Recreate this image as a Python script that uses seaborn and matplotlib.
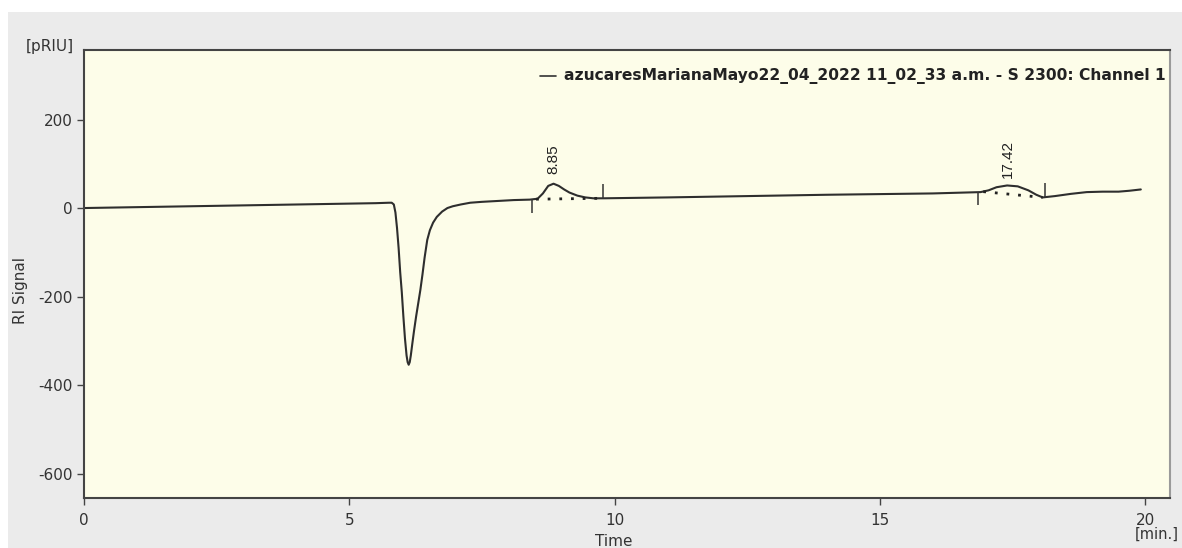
import matplotlib
matplotlib.use("Agg")
import matplotlib.pyplot as plt
import seaborn as sns
import pandas as pd
from matplotlib.patches import Rectangle

# Chromatogram trace (time in minutes, RI signal in pRIU)
time_min = [0, 1, 2, 3, 4, 5, 5.5, 5.75, 5.8, 5.84, 5.87, 5.9, 5.93, 5.96,
            5.99, 6.02, 6.05, 6.08, 6.1, 6.12, 6.14, 6.16, 6.19, 6.22, 6.26,
            6.3, 6.34, 6.38, 6.42, 6.47, 6.52, 6.58, 6.65, 6.75, 6.85, 6.95,
            7.1, 7.28, 7.5, 7.8, 8.1, 8.4, 8.55, 8.65, 8.75, 8.85, 8.95, 9.05,
            9.15, 9.3, 9.45, 9.6, 9.8, 11, 12, 13, 14, 15, 16, 16.6, 16.9,
            17.05, 17.2, 17.4, 17.6, 17.8, 17.95, 18.07, 18.3, 18.6, 18.9,
            19.2, 19.5, 19.7, 19.92]
signal = [0, 2, 4, 6, 8, 10, 11, 12, 12, 8, -10, -45, -90, -145,
          -190, -245, -295, -333, -348, -354, -348, -333, -305, -278, -245,
          -215, -185, -150, -112, -72, -50, -33, -20, -8, 0, 4,
          8, 12, 14, 16, 18, 19, 21, 33, 50, 55, 50, 42,
          35, 28, 24, 22, 22, 24, 26, 28, 30, 31.5, 33, 35, 36,
          40, 47, 51, 49, 40, 30, 24, 27, 32, 36,
          37, 37, 39, 42]

# Integrated peaks: retention time, baseline start/end and marker spans
peak_rt = [8.85, 17.42]
peak_label_y = [78, 68]
base_t0 = [8.52, 16.95]
base_y0 = [20, 37]
base_t1 = [9.75, 18.07]
base_y1 = [22, 24]
marker_t = [8.45, 9.79, 16.86, 18.11]
marker_lo = [-12, 20, 7, 25]
marker_hi = [20, 54, 36, 57]

legend_text = "azucaresMarianaMayo22_04_2022 11_02_33 a.m. - S 2300: Channel 1"

x_ticks = [0, 5, 10, 15, 20]
y_ticks = [-600, -400, -200, 0, 200]

sns.set_theme(style="ticks")
plt.rcParams["font.family"] = ["DejaVu Sans"]
plt.rcParams["axes.unicode_minus"] = False

fig = plt.figure(figsize=(11.82, 5.48), dpi=100, facecolor="white")
# grey panel behind the plot
fig.patches.append(Rectangle((8 / 1182, 0), 1 - 8 / 1182, 1 - 12 / 548,
                             transform=fig.transFigure, facecolor="#ebebeb",
                             edgecolor="none", zorder=-10))

ax = fig.add_axes([84 / 1182, 1 - 498 / 548, (1170 - 84) / 1182, (498 - 50) / 548])
ax.set_facecolor("#fdfde9")

df = pd.DataFrame({"Time": time_min, "Signal": signal})
sns.lineplot(data=df, x="Time", y="Signal", ax=ax, color="#2e2e2e",
             linewidth=1.5, estimator=None, sort=False)

# integration baselines and markers
for t0, y0, t1, y1 in zip(base_t0, base_y0, base_t1, base_y1):
    ax.plot([t0, t1], [y0, y1], color="#222222", linewidth=2,
            linestyle=(0, (1, 3.2)))
ax.vlines(marker_t, marker_lo, marker_hi, color="#333333", linewidth=1.1)

for rt, ly in zip(peak_rt, peak_label_y):
    ax.text(rt, ly, f"{rt:.2f}", rotation=90, ha="center", va="bottom",
            fontsize=11, color="#222222", family="Liberation Sans")

# legend entry
ax.plot([8.6, 8.9], [298, 298], color="#333333", linewidth=1.2)
ax.text(9.04, 298, legend_text, ha="left", va="center", fontsize=11.15,
        fontweight="bold", color="#222222", family="DejaVu Sans")

ax.set_xlim(0, 20.47)
ax.set_ylim(-655, 357)
ax.set_xticks(x_ticks)
ax.set_yticks(y_ticks)
ax.tick_params(axis="both", direction="out", length=5, width=1,
               color="#444444", labelsize=11, labelcolor="#333333", pad=3)
ax.tick_params(axis="x", pad=6)
for side in ["left", "bottom", "top", "right"]:
    ax.spines[side].set_visible(True)
    ax.spines[side].set_color("#444444")
    ax.spines[side].set_linewidth(1.5)
ax.spines["right"].set_color("#9a9a9a")

ax.set_xlabel("")
ax.set_ylabel("")
fig.text(20 / 1182, 1 - 290 / 548, "RI Signal", rotation=90, ha="center",
         va="center", fontsize=11, color="#333333")
fig.text(614 / 1182, 1 - 541 / 548, "Time", ha="center", va="center",
         fontsize=11, color="#333333")
fig.text(50 / 1182, 1 - 47 / 548, "[pRIU]", ha="center", va="center",
         fontsize=11, color="#333333")
fig.text(1157 / 1182, 1 - 534 / 548, "[min.]", ha="center", va="center",
         fontsize=10.5, color="#333333")

fig.savefig("out.png", dpi=100, facecolor=fig.get_facecolor())
